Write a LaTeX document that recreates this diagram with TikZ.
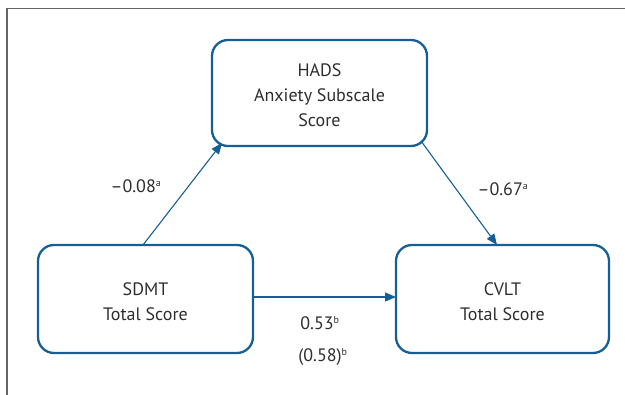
\documentclass[tikz,border=0pt]{standalone}
\usepackage{fontspec}
\setmainfont{PT Sans}
\usetikzlibrary{arrows.meta}
\definecolor{boxblue}{RGB}{22,94,150}
\definecolor{txtgray}{RGB}{45,45,45}
\definecolor{framegray}{RGB}{100,100,100}
\tikzset{
  box/.style={draw=boxblue, line width=2.3pt, rounded corners=16pt, inner sep=0pt},
  boxtext/.style={text=txtgray, align=center, font=\fontsize{18}{25}\selectfont},
  lbl/.style={text=txtgray, font=\fontsize{18}{20}\selectfont, inner sep=0pt},
  conn/.style={draw=boxblue, line width=1.1pt, -{Triangle[length=11pt,width=9pt]}}
}
\newcommand{\supa}[1]{\textsuperscript{\fontsize{10}{10}\selectfont #1}}
\begin{document}
\begin{tikzpicture}[x=1pt,y=-1pt]
\useasboundingbox (0,0) rectangle (625,395);
\draw[framegray, line width=1.6pt] (7,395) -- (7,8.5) -- (625,8.5);
% boxes
\draw[box] (212,40) rectangle (427,146);
\draw[box] (38,245) rectangle (253,353);
\draw[box] (396,245) rectangle (609,353);
\node[boxtext] (hads) at (319.5,95) {HADS\\Anxiety Subscale\\Score};
\node[boxtext] (sdmt) at (145.5,302) {SDMT\\Total Score};
\node[boxtext] (cvlt) at (502.5,302) {CVLT\\Total Score};
\coordinate (s1) at (143,245);
\coordinate (h1) at (222,143);
\coordinate (h2) at (421,141);
\coordinate (c1) at (497,245);
\coordinate (s2) at (253,297);
\coordinate (c2) at (396,297);
\draw[conn] (s1) -- (h1);
\draw[conn] (h2) -- (c1);
\draw[conn] (s2) -- (c2);
\node[lbl] (la) at (136,186) {–0.08\supa{a}};
\node[lbl] (lb) at (503,189) {–0.67\supa{a}};
\node[lbl] (lc) at (320,323) {0.53\supa{b}};
\node[lbl] (ld) at (323,357) {(0.58)\supa{b}};
\end{tikzpicture}
\end{document}
